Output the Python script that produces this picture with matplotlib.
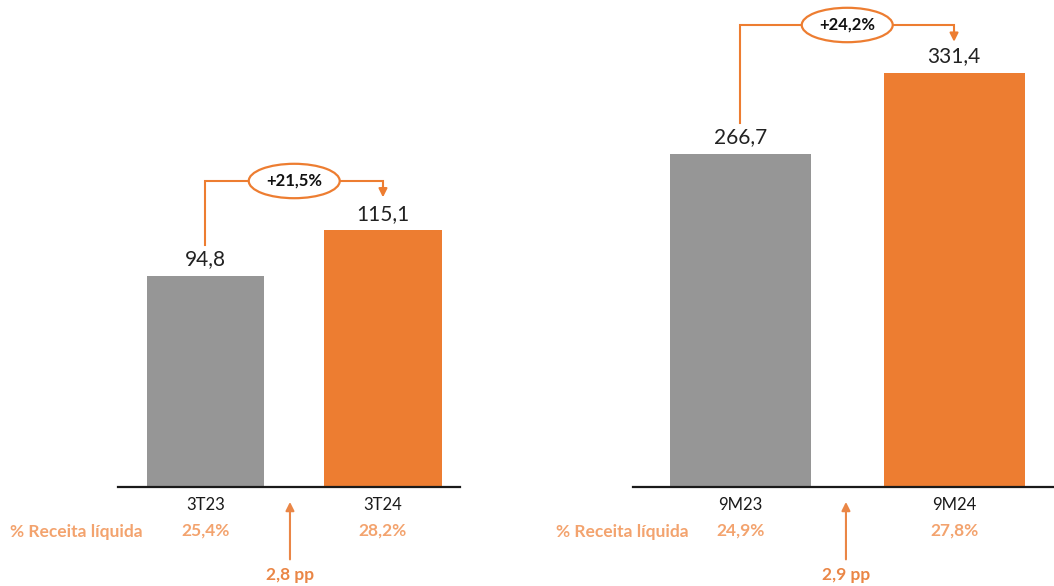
import matplotlib
matplotlib.use("Agg")
import matplotlib.pyplot as plt
from matplotlib.transforms import blended_transform_factory

plt.rcParams['font.family'] = ['Lato', 'DejaVu Sans']

# ---- data ----
left_categories = ["3T23", "3T24"]
left_values = [94.8, 115.1]
left_value_labels = ["94,8", "115,1"]
left_margins = ["25,4%", "28,2%"]
left_growth = "+21,5%"
left_pp = "2,8 pp"

right_categories = ["9M23", "9M24"]
right_values = [266.7, 331.4]
right_value_labels = ["266,7", "331,4"]
right_margins = ["24,9%", "27,8%"]
right_growth = "+24,2%"
right_pp = "2,9 pp"

margin_label = "% Receita líquida"

GRAY = "#969696"
ORANGE = "#ED7D31"
LIGHT = "#F3A36E"
PPC = "#EA8646"

W, H = 1054, 586
fig = plt.figure(figsize=(W / 100, H / 100), dpi=100)


def px_axes(x0, x1, ybot, ytop):
    return fig.add_axes([x0 / W, (H - ybot) / H, (x1 - x0) / W, (ybot - ytop) / H])


def panel(ax, cats, vals, vlabels, margins, growth, pp, ymax, xlim,
          start_off, top_level, end_off, pp_x):
    ax.bar([0, 1], vals, width=0.66, color=[GRAY, ORANGE], zorder=2)
    ax.set_xlim(*xlim)
    ax.set_ylim(0, ymax)
    for s in ["left", "right", "top"]:
        ax.spines[s].set_visible(False)
    ax.spines["bottom"].set_linewidth(1.6)
    ax.spines["bottom"].set_color("#1a1a1a")
    ax.set_yticks([])
    ax.set_xticks([0, 1])
    ax.set_xticklabels(cats, fontsize=12, color="#1a1a1a")
    ax.tick_params(axis="x", length=0, pad=7)
    for i, (v, lab) in enumerate(zip(vals, vlabels)):
        ax.text(i, v + ymax * 0.014, lab, ha="center", va="bottom",
                fontsize=15, color="#222222")
    # bracket
    y0 = vals[0] + start_off
    y1 = vals[1] + end_off
    ax.plot([0, 0, 1, 1], [y0, top_level, top_level, y1 + ymax * 0.02],
            color=ORANGE, lw=1.5, solid_joinstyle="miter", zorder=3)
    ax.annotate("", xy=(1, y1), xytext=(1, y1 + ymax * 0.025),
                arrowprops=dict(arrowstyle="-|>,head_length=0.5,head_width=0.25",
                                color=ORANGE, lw=1.5, shrinkA=0, shrinkB=0))
    ax.text(0.5, top_level, growth, ha="center", va="center", fontsize=12,
            fontweight="bold", color="#111111", zorder=4,
            bbox=dict(boxstyle="ellipse,pad=0.25", fc="white", ec=ORANGE, lw=1.6))
    # margins below
    tr = blended_transform_factory(ax.transData, ax.transAxes)
    for i, m in enumerate(margins):
        ax.text(i, -0.094, m, transform=tr, ha="center", va="center",
                fontsize=12.5, fontweight="bold", color=LIGHT)
    ax.annotate("", xy=(pp_x, -0.032), xycoords=tr, xytext=(pp_x, -0.155),
                textcoords=tr,
                arrowprops=dict(arrowstyle="-|>,head_length=0.5,head_width=0.25",
                                color=PPC, lw=1.5, shrinkA=0, shrinkB=0),
                annotation_clip=False)
    ax.text(pp_x, -0.188, pp, transform=tr, ha="center", va="center",
            fontsize=12.5, fontweight="bold", color=PPC)


axL = px_axes(118, 460, 487, 20)
panel(axL, left_categories, left_values, left_value_labels, left_margins,
      left_growth, left_pp, ymax=467 / 2.23, xlim=(-0.493, 1.434),
      start_off=30.5 / 2.23, top_level=306 / 2.23, end_off=33 / 2.23, pp_x=0.476)

axR = px_axes(633, 1054, 487, 20)
panel(axR, right_categories, right_values, right_value_labels, right_margins,
      right_growth, right_pp, ymax=467 / 1.25, xlim=(-0.503, 1.468),
      start_off=30.5 / 1.25, top_level=462 / 1.25, end_off=31 / 1.25, pp_x=0.494)

fig.text(10 / W, 1 - 532 / H, margin_label, ha="left", va="center",
         fontsize=12.5, fontweight="bold", color=LIGHT)
fig.text(556 / W, 1 - 532 / H, margin_label, ha="left", va="center",
         fontsize=12.5, fontweight="bold", color=LIGHT)

fig.savefig("out.png", dpi=100, facecolor="white")
